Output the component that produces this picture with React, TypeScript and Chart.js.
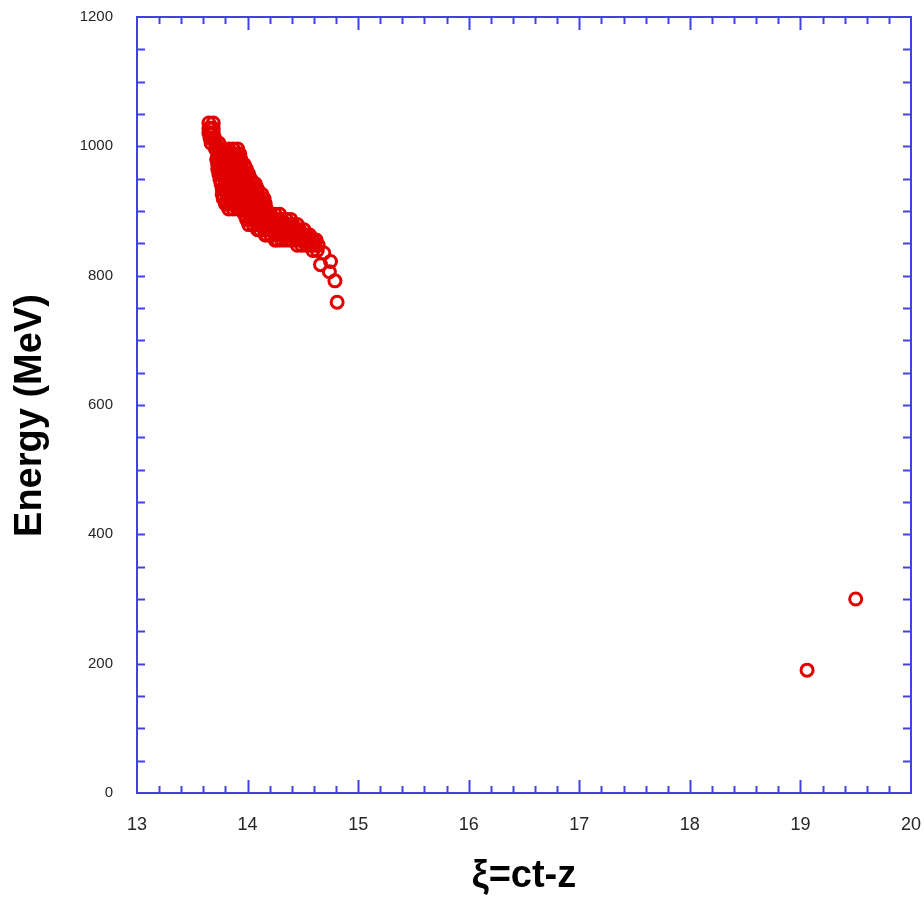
import React, { useEffect, useRef } from "react";
import { Chart, registerables } from "chart.js";

Chart.register(...registerables);

// Energy levels (MeV) of the dense bunch, one row per level
const energyRows: number[] = [
  1036, 1028, 1021, 1013, 1005, 996, 988, 980, 972, 965, 957, 949, 942, 934,
  926, 919, 911, 903, 895, 887, 879, 871, 863, 855, 847, 839,
];

// ξ values of the particles at each of those energy levels
const xiRows: number[][] = [
  [13.65, 13.69],
  [13.65, 13.67, 13.69],
  [13.65, 13.69],
  [13.66, 13.68, 13.7],
  [13.67, 13.71, 13.74],
  [13.71, 13.75, 13.79, 13.83, 13.87, 13.91],
  [13.73, 13.77, 13.81, 13.85, 13.89, 13.93],
  [13.72, 13.75, 13.79, 13.83, 13.87, 13.91, 13.94],
  [13.73, 13.77, 13.81, 13.85, 13.89, 13.93, 13.97],
  [13.73, 13.75, 13.79, 13.83, 13.87, 13.91, 13.95, 13.99],
  [13.74, 13.77, 13.81, 13.85, 13.89, 13.93, 13.97, 14.01],
  [13.75, 13.79, 13.83, 13.87, 13.91, 13.95, 13.99, 14.03],
  [13.76, 13.81, 13.85, 13.89, 13.93, 13.97, 14.01, 14.05, 14.07],
  [13.77, 13.79, 13.83, 13.87, 13.91, 13.95, 13.99, 14.03, 14.07, 14.09],
  [13.77, 13.81, 13.85, 13.89, 13.93, 13.97, 14.01, 14.05, 14.09, 14.13],
  [13.78, 13.83, 13.87, 13.91, 13.95, 13.99, 14.03, 14.07, 14.11, 14.15],
  [13.8, 13.81, 13.85, 13.89, 13.93, 13.97, 14.01, 14.05, 14.09, 14.13, 14.16],
  [13.83, 13.87, 13.91, 13.95, 13.99, 14.03, 14.07, 14.11, 14.15, 14.17],
  [13.97, 14.01, 14.05, 14.09, 14.13, 14.17, 14.21, 14.25, 14.29],
  [13.99, 14.03, 14.07, 14.11, 14.15, 14.19, 14.23, 14.27, 14.31, 14.35, 14.39],
  [14.01, 14.05, 14.09, 14.13, 14.17, 14.21, 14.25, 14.29, 14.33, 14.37, 14.41, 14.45],
  [14.09, 14.11, 14.15, 14.19, 14.23, 14.27, 14.31, 14.35, 14.39, 14.43, 14.47, 14.51],
  [14.16, 14.17, 14.21, 14.25, 14.29, 14.33, 14.37, 14.41, 14.45, 14.49, 14.53, 14.56],
  [14.25, 14.27, 14.31, 14.35, 14.39, 14.43, 14.47, 14.51, 14.55, 14.59, 14.62],
  [14.45, 14.49, 14.53, 14.57, 14.61, 14.64],
  [14.59, 14.63],
];

// Sparse particles: bunch tail and the two stragglers
const sparseXi: number[] = [14.69, 14.75, 14.66, 14.74, 14.79, 14.81, 19.06, 19.5];
const sparseEnergy: number[] = [835, 822, 817, 806, 792, 759, 190, 300];

const xTickValues: number[] = [13, 14, 15, 16, 17, 18, 19, 20];
const yTickValues: number[] = [0, 200, 400, 600, 800, 1000, 1200];

const BLUE = "#4242e2";
const RED = "#e00000";

const framePlugin = {
  id: "frameTicks",
  afterDatasetsDraw(chart: any) {
    const { ctx, chartArea, scales } = chart;
    const { left, right, top, bottom } = chartArea;
    const xs = scales.x;
    const ys = scales.y;
    ctx.save();
    ctx.strokeStyle = BLUE;
    ctx.lineWidth = 2;
    ctx.beginPath();
    for (let i = 1; i < 35; i++) {
      const v = 13 + i * 0.2;
      const px = Math.round(xs.getPixelForValue(v)) + 0.5;
      const len = i % 5 === 0 ? 13 : 7;
      ctx.moveTo(px, bottom);
      ctx.lineTo(px, bottom - len);
      ctx.moveTo(px, top);
      ctx.lineTo(px, top + len);
    }
    for (let i = 1; i < 24; i++) {
      const v = i * 50;
      const py = Math.round(ys.getPixelForValue(v)) + 0.5;
      const len = 8;
      ctx.moveTo(left, py);
      ctx.lineTo(left + len, py);
      ctx.moveTo(right, py);
      ctx.lineTo(right - len, py);
    }
    ctx.stroke();
    ctx.strokeRect(left, top, right - left, bottom - top);
    ctx.restore();
  },
};

export default function App() {
  const canvasRef = useRef<HTMLCanvasElement | null>(null);

  useEffect(() => {
    if (!canvasRef.current) return;
    const points: { x: number; y: number }[] = [];
    energyRows.forEach((e, r) => {
      xiRows[r].forEach((xi) => points.push({ x: xi, y: e }));
    });
    sparseXi.forEach((xi, i) => points.push({ x: xi, y: sparseEnergy[i] }));

    const chart = new Chart(canvasRef.current, {
      type: "scatter",
      data: {
        datasets: [
          {
            label: "particles",
            data: points,
            pointStyle: "circle",
            pointRadius: 6,
            pointBorderWidth: 3,
            borderColor: RED,
            backgroundColor: "rgba(0,0,0,0)",
            pointHoverRadius: 6,
          },
        ],
      },
      plugins: [framePlugin],
      options: {
        animation: false,
        responsive: false,
        maintainAspectRatio: false,
        layout: { padding: { top: 17, right: 13, left: 0, bottom: 0 } },
        plugins: {
          legend: { display: false },
          tooltip: { enabled: false },
        },
        scales: {
          x: {
            type: "linear",
            min: 13,
            max: 20,
            afterFit: (s: any) => {
              s.height = 116;
              s.paddingLeft = 0;
              s.paddingRight = 0;
            },
            afterBuildTicks: (s: any) => {
              s.ticks = xTickValues.map((v) => ({ value: v }));
            },
            grid: { display: false, drawTicks: false },
            border: { display: false },
            ticks: {
              autoSkip: false,
              maxRotation: 0,
              padding: 21,
              color: "#262626",
              callback: (v: any) => String(v),
              font: { family: "Liberation Sans, Arial, sans-serif", size: 18 },
            },
            title: {
              display: true,
              text: "ξ=ct-z",
              color: "#000",
              font: { family: "Liberation Sans, Arial, sans-serif", size: 38, weight: "bold" },
              padding: { top: 0, bottom: 10 },
            },
          },
          y: {
            type: "linear",
            min: 0,
            max: 1200,
            afterFit: (s: any) => {
              s.width = 137;
              s.paddingTop = 0;
              s.paddingBottom = 0;
            },
            afterBuildTicks: (s: any) => {
              s.ticks = yTickValues.map((v) => ({ value: v }));
            },
            grid: { display: false, drawTicks: false },
            border: { display: false },
            ticks: {
              autoSkip: false,
              padding: 24,
              color: "#262626",
              callback: (v: any) => String(v),
              font: { family: "Liberation Sans, Arial, sans-serif", size: 15 },
            },
            title: {
              display: true,
              text: "Energy (MeV)  ",
              color: "#000",
              font: { family: "Liberation Sans, Arial, sans-serif", size: 38, weight: "bold" },
              padding: { top: 8, bottom: 0 },
            },
          },
        },
      },
    });
    return () => chart.destroy();
  }, []);

  return (
    <div style={{ position: "fixed", left: 0, top: 0, width: 924, height: 909, background: "#fff", overflow: "hidden" }}>
      <canvas ref={canvasRef} width={924} height={909} style={{ width: 924, height: 909 }} />
    </div>
  );
}
